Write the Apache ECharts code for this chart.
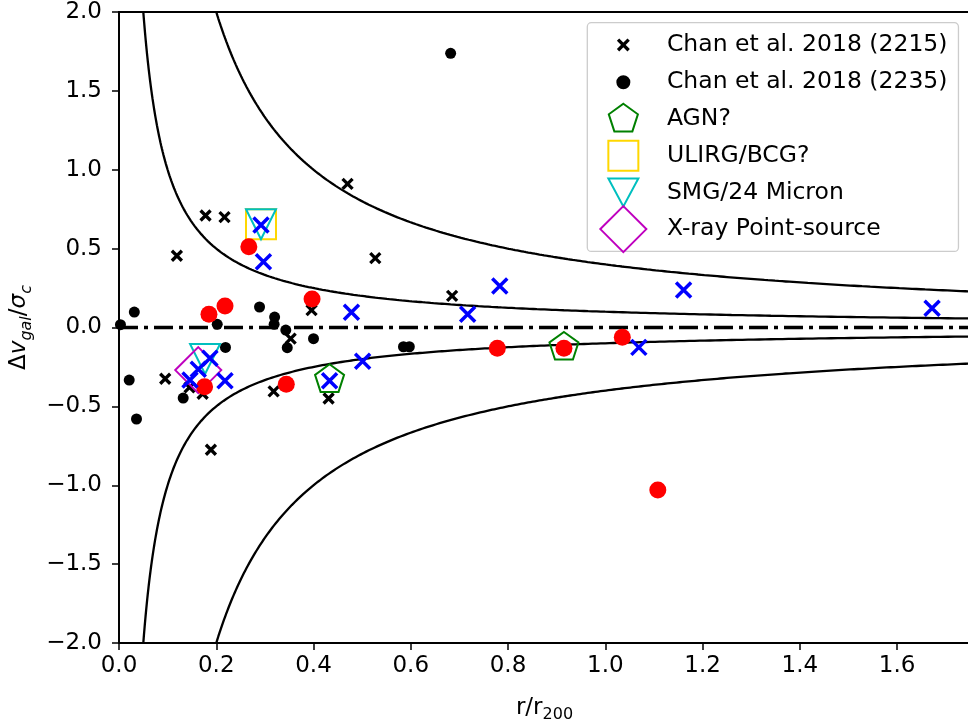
<!DOCTYPE html>
<html>
<head>
<meta charset="utf-8">
<script src="https://cdn.jsdelivr.net/npm/echarts@6/dist/echarts.min.js"></script>
<style>
  html, body { margin: 0; padding: 0; background: #fff; }
  #chart { width: 968px; height: 722px; }
</style>
</head>
<body>
<div id="chart"></div>
<script>
// Cluster members: [r/r200, Δv/σ]
const chan2215 = [
  [0.470, 0.91], [0.178, 0.71], [0.217, 0.70], [0.119, 0.455], [0.527, 0.44],
  [0.353, -0.07], [0.396, 0.11], [0.685, 0.20], [0.095, -0.325], [0.172, -0.42],
  [0.145, -0.38], [0.189, -0.775], [0.318, -0.405], [0.431, -0.45]
];
const chan2235 = [
  [0.682, 1.738], [0.0315, 0.098], [0.003, 0.018], [0.289, 0.13], [0.202, 0.02],
  [0.320, 0.066], [0.319, 0.02], [0.343, -0.016], [0.346, -0.128], [0.400, -0.071],
  [0.219, -0.126], [0.021, -0.333], [0.132, -0.447], [0.036, -0.58], [0.585, -0.122],
  [0.597, -0.122]
];
const redMembers = [
  [0.267, 0.512], [0.185, 0.084], [0.218, 0.136], [0.397, 0.181], [0.176, -0.375],
  [0.344, -0.36], [0.778, -0.132], [0.915, -0.132], [1.035, -0.062], [1.108, -1.03]
];
const blueMembers = [
  [0.292, 0.65], [0.297, 0.417], [0.478, 0.096], [0.187, -0.195], [0.163, -0.265],
  [0.146, -0.333], [0.218, -0.337], [0.433, -0.337], [0.501, -0.214], [0.717, 0.084],
  [0.783, 0.263], [1.069, -0.126], [1.161, 0.238], [1.672, 0.122]
];
const agn = [[0.433, -0.33], [0.915, -0.125]];
const ulirg = [[0.292, 0.655]];
const smg = [[0.292, 0.655], [0.177, -0.20]];
const xray = [[0.163, -0.27]];

// Constant r·|Δv| levels traced as hyperbolae
const causticLevels = [0.1, 0.4];

const xRange = [0, 1.75];
const yRange = [-2, 2];
const xTickStep = 0.2;
const yTickStep = 0.5;

const seriesNames = [
  'Chan et al. 2018 (2215)', 'Chan et al. 2018 (2235)', 'AGN?',
  'ULIRG/BCG?', 'SMG/24 Micron', 'X-ray Point-source'
];

const FONT = 'DejaVu Sans';

function hyperbola(c, sign) {
  const pts = [];
  const x0 = c / Math.abs(yRange[1]);
  const n = 400;
  for (let i = 0; i <= n; i++) {
    const x = x0 * Math.pow(xRange[1] / x0, i / n);
    pts.push([x, sign * c / x]);
  }
  return pts;
}

const crossPath = 'path://M-1 -1L1 1M1 -1L-1 1';
const pentagonPath = 'path://M0 -1L0.951 -0.309L0.588 0.809L-0.588 0.809L-0.951 -0.309ZM-1 -1M1 1';
const triDownPath = 'path://M-1 -1L1 -1L0 1Z';

// Legend icons live in a 69x46 box so the marker sizes can differ per row
const box = (d) => 'path://M0 0' + d + 'M69 46';
const legendIcons = [
  box('M25.1 17.7L35.7 28.3M35.7 17.7L25.1 28.3'),
  box('M24.4 23A6 6 0 1 0 36.4 23A6 6 0 1 0 24.4 23Z'),
  box('M30.4 7.7L44.95 18.27L39.4 35.38L21.4 35.38L15.85 18.27Z'),
  box('M15.4 8L45.4 8L45.4 38L15.4 38Z'),
  box('M15.4 9L45.4 9L30.4 37Z'),
  box('M30.4 0L53.4 23L30.4 46L7.4 23Z')
];

const lineSeries = [];
causticLevels.forEach(c => {
  [1, -1].forEach(s => {
    lineSeries.push({
      type: 'line', data: hyperbola(c, s), showSymbol: false, silent: true,
      lineStyle: { color: '#000', width: 2.3 }, z: 1, clip: true
    });
  });
});
lineSeries.push({
  type: 'line', data: [[xRange[0], 0], [xRange[1], 0]], showSymbol: false, silent: true,
  lineStyle: { color: '#000', width: 3.3, type: [19, 6, 4, 6], cap: 'butt' }, z: 1
});

function scatter(name, data, symbol, size, color, fill, width, z) {
  return {
    name, type: 'scatter', data, symbol, symbolSize: size, silent: true, z,
    itemStyle: { color: fill, borderColor: color, borderWidth: width, opacity: 1 },
    emphasis: { disabled: true }
  };
}

const clear = 'rgba(0,0,0,0)';
const pointSeries = [
  scatter(seriesNames[0], chan2215, crossPath, 10, '#000', '#000', 3.3, 3),
  scatter(seriesNames[1], chan2235, 'circle', 11, '#000', '#000', 0, 3),
  scatter(seriesNames[2], agn, pentagonPath, 30.5, '#008000', clear, 2, 4),
  scatter(seriesNames[3], ulirg, 'rect', 30, '#ffd700', clear, 2, 4),
  scatter(seriesNames[4], smg, triDownPath, 30, '#00bfbf', clear, 2, 4),
  scatter(seriesNames[5], xray, 'diamond', 46, '#bf00bf', clear, 2, 4),
  scatter('red', redMembers, 'circle', 17, '#ff0000', '#ff0000', 0, 5),
  scatter('blue', blueMembers, crossPath, 15, '#0000ff', '#0000ff', 3.5, 6)
];

const fmt = v => (v < 0 ? '\u2212' : '') + Math.abs(v).toFixed(1);

const chart = echarts.init(document.getElementById('chart'), null, { renderer: 'canvas' });
chart.setOption({
  animation: false,
  backgroundColor: '#fff',
  grid: {
    left: 119, top: 12, right: -2, bottom: 79,
    show: true, borderColor: '#000', borderWidth: 1.8,
    containLabel: false, outerBoundsMode: 'none'
  },
  legend: {
    data: seriesNames.map((n, i) => ({
      name: n, icon: legendIcons[i],
      itemStyle: { borderWidth: i === 0 ? 3.3 : 2 }
    })),
    orient: 'vertical',
    left: 587.3, top: 22.7,
    itemWidth: 69, itemHeight: 46, itemGap: -11.3,
    padding: [-2.4, 11, -1.7, 4],
    selectedMode: false,
    backgroundColor: 'rgba(255,255,255,0.8)',
    borderColor: '#cccccc', borderWidth: 1.3, borderRadius: 4,
    textStyle: { fontFamily: FONT, fontSize: 23.5, color: '#000' }
  },
  xAxis: {
    type: 'value', min: xRange[0], max: xRange[1], interval: xTickStep,
    name: '{r|r/r}{s|200}', nameLocation: 'middle', nameGap: 50,
    nameTextStyle: {
      rich: {
        r: { fontFamily: FONT, fontSize: 23, lineHeight: 30, color: '#000' },
        s: { fontFamily: FONT, fontSize: 16, lineHeight: 16, verticalAlign: 'bottom', color: '#000' }
      }
    },
    axisLine: { show: true, onZero: false, lineStyle: { color: '#000', width: 1.8 } },
    axisTick: { show: true, inside: false, length: 7, lineStyle: { color: '#000', width: 1.5 } },
    axisLabel: {
      formatter: v => v.toFixed(1), showMaxLabel: false, margin: 12,
      fontFamily: FONT, fontSize: 23, color: '#000'
    },
    splitLine: { show: false }
  },
  yAxis: {
    type: 'value', min: yRange[0], max: yRange[1], interval: yTickStep,
    name: '{d|\u0394}{i|v}{s|gal}{d|/}{i|\u03c3}{s|c}', nameLocation: 'middle', nameGap: 74, nameRotate: 90,
    nameTextStyle: {
      rich: {
        d: { fontFamily: FONT, fontSize: 23, lineHeight: 32, color: '#000' },
        i: { fontFamily: FONT, fontStyle: 'italic', fontSize: 23, lineHeight: 32, color: '#000' },
        s: { fontFamily: FONT, fontStyle: 'italic', fontSize: 16, lineHeight: 16, verticalAlign: 'bottom', color: '#000' }
      }
    },
    axisLine: { show: true, onZero: false, lineStyle: { color: '#000', width: 1.8 } },
    axisTick: { show: true, inside: false, length: 7, lineStyle: { color: '#000', width: 1.5 } },
    axisLabel: { formatter: fmt, margin: 17, fontFamily: FONT, fontSize: 23, color: '#000' },
    splitLine: { show: false }
  },
  series: lineSeries.concat(pointSeries)
});
</script>
</body>
</html>
